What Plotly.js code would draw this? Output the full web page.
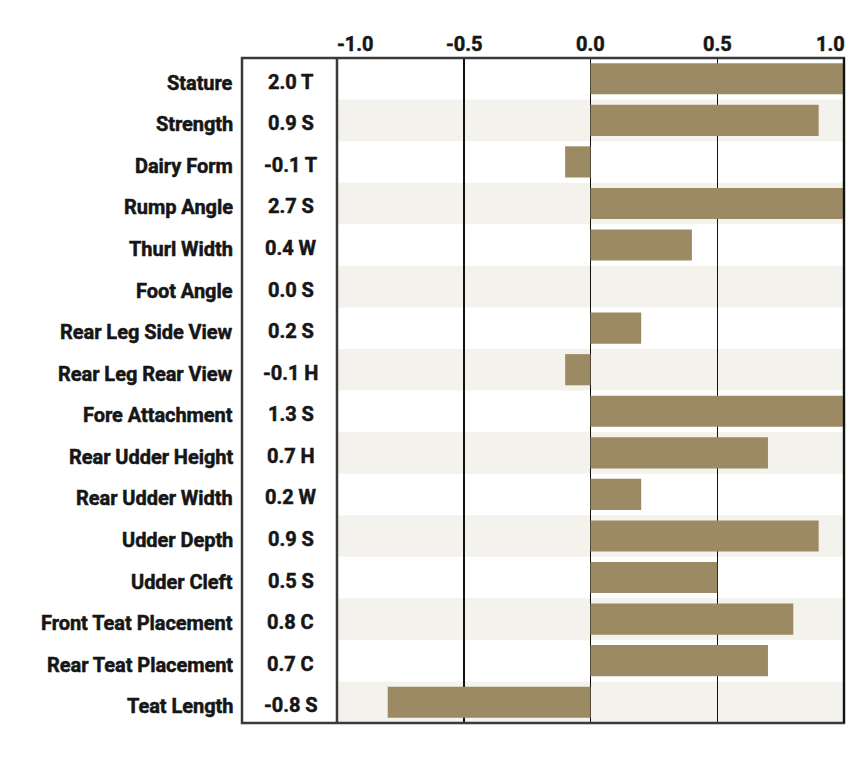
<!DOCTYPE html>
<html>
<head>
<meta charset="utf-8">
<script src="https://cdn.plot.ly/plotly-3.0.1.min.js"></script>
<style>
  html, body { margin: 0; padding: 0; background: #ffffff; }
  #chart { width: 855px; height: 757px; }
  .annotation-text { letter-spacing: -0.05px; stroke: #161616; stroke-width: 0.5px; }
</style>
</head>
<body>
<div id="chart"></div>
<script>
// ---- data ----
const traits = [
  "Stature", "Strength", "Dairy Form", "Rump Angle", "Thurl Width",
  "Foot Angle", "Rear Leg Side View", "Rear Leg Rear View", "Fore Attachment",
  "Rear Udder Height", "Rear Udder Width", "Udder Depth", "Udder Cleft",
  "Front Teat Placement", "Rear Teat Placement", "Teat Length"
];
const values = [2.0, 0.9, -0.1, 2.7, 0.4, 0.0, 0.2, -0.1, 1.3, 0.7, 0.2, 0.9, 0.5, 0.8, 0.7, -0.8];
const codes = ["T", "S", "T", "S", "W", "S", "S", "H", "S", "H", "W", "S", "S", "C", "C", "S"];
const tickValues = [-1.0, -0.5, 0.0, 0.5, 1.0];
const tickLabels = ["-1.0", "-0.5", "0.0", "0.5", "1.0"];

// ---- styling ----
const barColor = "#9b8a63";
const bandColor = "#f4f2ed";
const frameColor = "#3a3a3a";
const textColor = "#161616";
const fontFamily = "Roboto, 'Liberation Sans', sans-serif";

const W = 855, H = 757;
const margin = { l: 337, r: 11, t: 58, b: 34 };
const plotW = W - margin.l - margin.r;
const px = (x) => (x - margin.l) / plotW; // pixel x -> paper x

const boxLeft = px(242);
const nameRight = px(235);
const valueCenter = px(290.5);

const trace = {
  type: "bar",
  orientation: "h",
  y: traits,
  x: values,
  marker: { color: barColor, line: { width: 0 } },
  hoverinfo: "skip",
  cliponaxis: true
};

const shapes = [];
// alternating row bands
traits.forEach((t, i) => {
  if (i % 2 === 1) {
    shapes.push({
      type: "rect", layer: "below",
      xref: "paper", yref: "y",
      x0: 0, x1: 1, y0: i - 0.5, y1: i + 0.5,
      fillcolor: bandColor, line: { width: 0 }
    });
  }
});
// frame
shapes.push({
  type: "rect", layer: "above", xref: "paper", yref: "paper",
  x0: boxLeft, x1: 1, y0: 0, y1: 1,
  line: { color: frameColor, width: 2.5 }, fillcolor: "rgba(0,0,0,0)"
});
shapes.push({
  type: "line", layer: "above", xref: "paper", yref: "paper",
  x0: 0, x1: 0, y0: 0, y1: 1,
  line: { color: frameColor, width: 2.5 }
});
shapes.push({
  type: "line", layer: "above", xref: "paper", yref: "paper",
  x0: 1, x1: 1, y0: 0, y1: 1,
  line: { color: "#111111", width: 2 }
});

const annotations = [];
const textFont = { family: fontFamily, size: 20, color: textColor, weight: 700 };
traits.forEach((t, i) => {
  annotations.push({
    xref: "paper", yref: "y", x: nameRight, y: t,
    text: t, showarrow: false, xanchor: "right", yanchor: "middle", yshift: -4,
    font: textFont
  });
  annotations.push({
    xref: "paper", yref: "y", x: valueCenter, y: t,
    text: values[i].toFixed(1) + " " + codes[i], showarrow: false,
    xanchor: "center", yanchor: "middle", yshift: -3,
    font: textFont
  });
});
tickValues.forEach((v, i) => {
  let anchor = "center";
  if (i === 0) anchor = "left";
  if (i === tickValues.length - 1) anchor = "right";
  annotations.push({
    xref: "x", yref: "paper", x: v, y: 1, yshift: 14,
    text: tickLabels[i], showarrow: false, xanchor: anchor, yanchor: "middle",
    xshift: anchor === "right" ? 3 : (anchor === "left" ? -2 : 0),
    font: textFont
  });
});

const layout = {
  width: W, height: H,
  margin: margin,
  paper_bgcolor: "#ffffff",
  plot_bgcolor: "#ffffff",
  showlegend: false,
  bargap: 0.25,
  xaxis: {
    range: [-1, 1],
    tickvals: tickValues,
    showticklabels: false,
    ticks: "",
    showgrid: true,
    gridcolor: "#111111",
    gridwidth: 1.5,
    zeroline: true,
    zerolinecolor: "#111111",
    zerolinewidth: 1.5,
    showline: false,
    fixedrange: true
  },
  yaxis: {
    type: "category",
    categoryorder: "array",
    categoryarray: traits,
    range: [traits.length - 0.5, -0.5],
    showticklabels: false,
    ticks: "",
    showgrid: false,
    zeroline: false,
    showline: false,
    fixedrange: true
  },
  shapes: shapes,
  annotations: annotations
};

Plotly.newPlot("chart", [trace], layout, { displayModeBar: false, staticPlot: true });
</script>
</body>
</html>
